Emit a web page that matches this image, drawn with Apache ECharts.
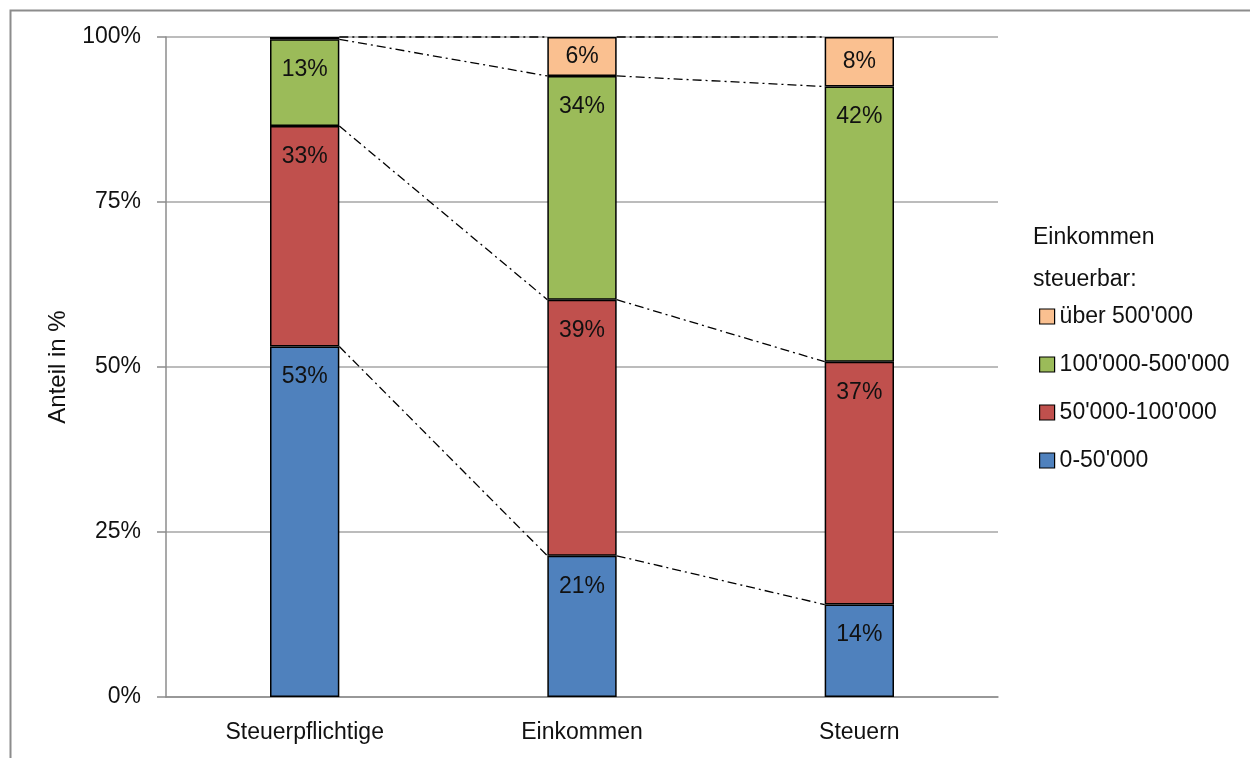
<!DOCTYPE html>
<html>
<head>
<meta charset="utf-8">
<script src="https://cdn.jsdelivr.net/npm/echarts@6/dist/echarts.min.js"></script>
<style>
  html, body { margin: 0; padding: 0; background: #fff; }
  #chart { width: 1250px; height: 758px; }
</style>
</head>
<body>
<div id="chart"></div>
<script>
// Anteile je Einkommensklasse (in %), gestapelt pro Kategorie
const categories = ['Steuerpflichtige', 'Einkommen', 'Steuern'];
const seriesNames = ["0-50'000", "50'000-100'000", "100'000-500'000", "über 500'000"];
const bis50k      = [53.1, 21.4, 14.0];
const bis100k     = [33.4, 38.8, 36.8];
const bis500k     = [13.15, 33.9, 41.7];
const ueber500k   = [0.35, 5.9, 7.5];
const yTicks = [0, 25, 50, 75, 100];

const colors = ['#4F81BD', '#C0504D', '#9BBB59', '#FAC090'];
const stacks = [bis50k, bis100k, bis500k, ueber500k];
const FONT = '"Liberation Sans", Arial, sans-serif';
const FS = 23;
const BAR_RATIO = 0.25;

// Kumulierte Obergrenzen jedes Segments für die Verbindungslinien
const cumulative = categories.map((_, ci) => {
  let s = 0;
  return stacks.map(arr => (s += arr[ci]));
});
const linkData = [];
for (let ci = 0; ci < categories.length - 1; ci++) {
  for (let k = 0; k < stacks.length; k++) {
    linkData.push([ci, cumulative[ci][k], cumulative[ci + 1][k]]);
  }
}

const barSeries = stacks.map((arr, i) => ({
  name: seriesNames[i],
  type: 'bar',
  stack: 'total',
  barWidth: (BAR_RATIO * 100) + '%',
  data: arr,
  itemStyle: { color: colors[i], borderColor: '#000', borderWidth: 1.5 },
  label: {
    show: true,
    position: i === 3 ? 'inside' : 'insideTop',
    distance: 19,
    color: '#111',
    fontFamily: FONT,
    fontSize: FS,
    formatter: p => p.value < 1 ? '' : Math.round(p.value) + '%'
  },
  emphasis: { disabled: true },
  silent: true,
  z: 3
}));

const linkSeries = {
  type: 'custom',
  silent: true,
  z: 4,
  data: linkData,
  renderItem: (params, api) => {
    const bw = api.size([1, 0])[0] * BAR_RATIO;
    const p1 = api.coord([api.value(0), api.value(1)]);
    const p2 = api.coord([api.value(0) + 1, api.value(2)]);
    return {
      type: 'line',
      shape: { x1: p1[0] + bw / 2, y1: p1[1], x2: p2[0] - bw / 2, y2: p2[1] },
      style: { stroke: '#000', lineWidth: 1.3, lineDash: [9, 4, 2, 4] }
    };
  }
};

const chart = echarts.init(document.getElementById('chart'), null, { renderer: 'canvas' });
chart.setOption({
  animation: false,
  backgroundColor: '#fff',
  textStyle: { fontFamily: FONT },
  title: {
    text: 'Einkommen\nsteuerbar:',
    left: 1028,
    top: 212,
    padding: 5,
    textStyle: { fontFamily: FONT, fontSize: FS, fontWeight: 'normal', color: '#111', lineHeight: 42 }
  },
  legend: {
    orient: 'vertical',
    left: 1039,
    top: 305,
    padding: 0,
    itemWidth: 15,
    itemHeight: 15,
    itemGap: 25,
    icon: 'rect',
    data: seriesNames.slice().reverse(),
    itemStyle: { borderColor: '#000', borderWidth: 1.2 },
    textStyle: { fontFamily: FONT, fontSize: FS, color: '#111', padding: [0, 0, 0, 0] },
    selectedMode: false
  },
  grid: { left: 166, right: 252, top: 37, bottom: 61 },
  xAxis: {
    type: 'category',
    data: categories,
    axisLine: { lineStyle: { color: '#8C8C8C', width: 1.5 } },
    axisTick: { show: false },
    axisLabel: { margin: 24, fontFamily: FONT, fontSize: FS, color: '#111' }
  },
  yAxis: {
    type: 'value',
    min: 0,
    max: 100,
    interval: 25,
    name: 'Anteil in %',
    nameLocation: 'middle',
    nameGap: 96,
    nameTextStyle: { fontFamily: FONT, fontSize: 24, color: '#111' },
    axisLine: { show: true, lineStyle: { color: '#8C8C8C', width: 1.5 } },
    axisTick: { show: true, length: 9, lineStyle: { color: '#8C8C8C', width: 1.5 } },
    axisLabel: {
      margin: 25,
      fontFamily: FONT,
      fontSize: FS,
      color: '#111',
      formatter: v => yTicks.includes(v) ? v + '%' : ''
    },
    splitLine: { lineStyle: { color: '#A6A6A6', width: 1.5 } }
  },
  graphic: [{
    type: 'rect',
    left: 8,
    top: 8,
    shape: { width: 1300, height: 800 },
    style: { fill: 'none', stroke: '#8C8C8C', lineWidth: 2 },
    silent: true,
    z: -1
  }],
  series: [...barSeries, linkSeries]
});
</script>
</body>
</html>
